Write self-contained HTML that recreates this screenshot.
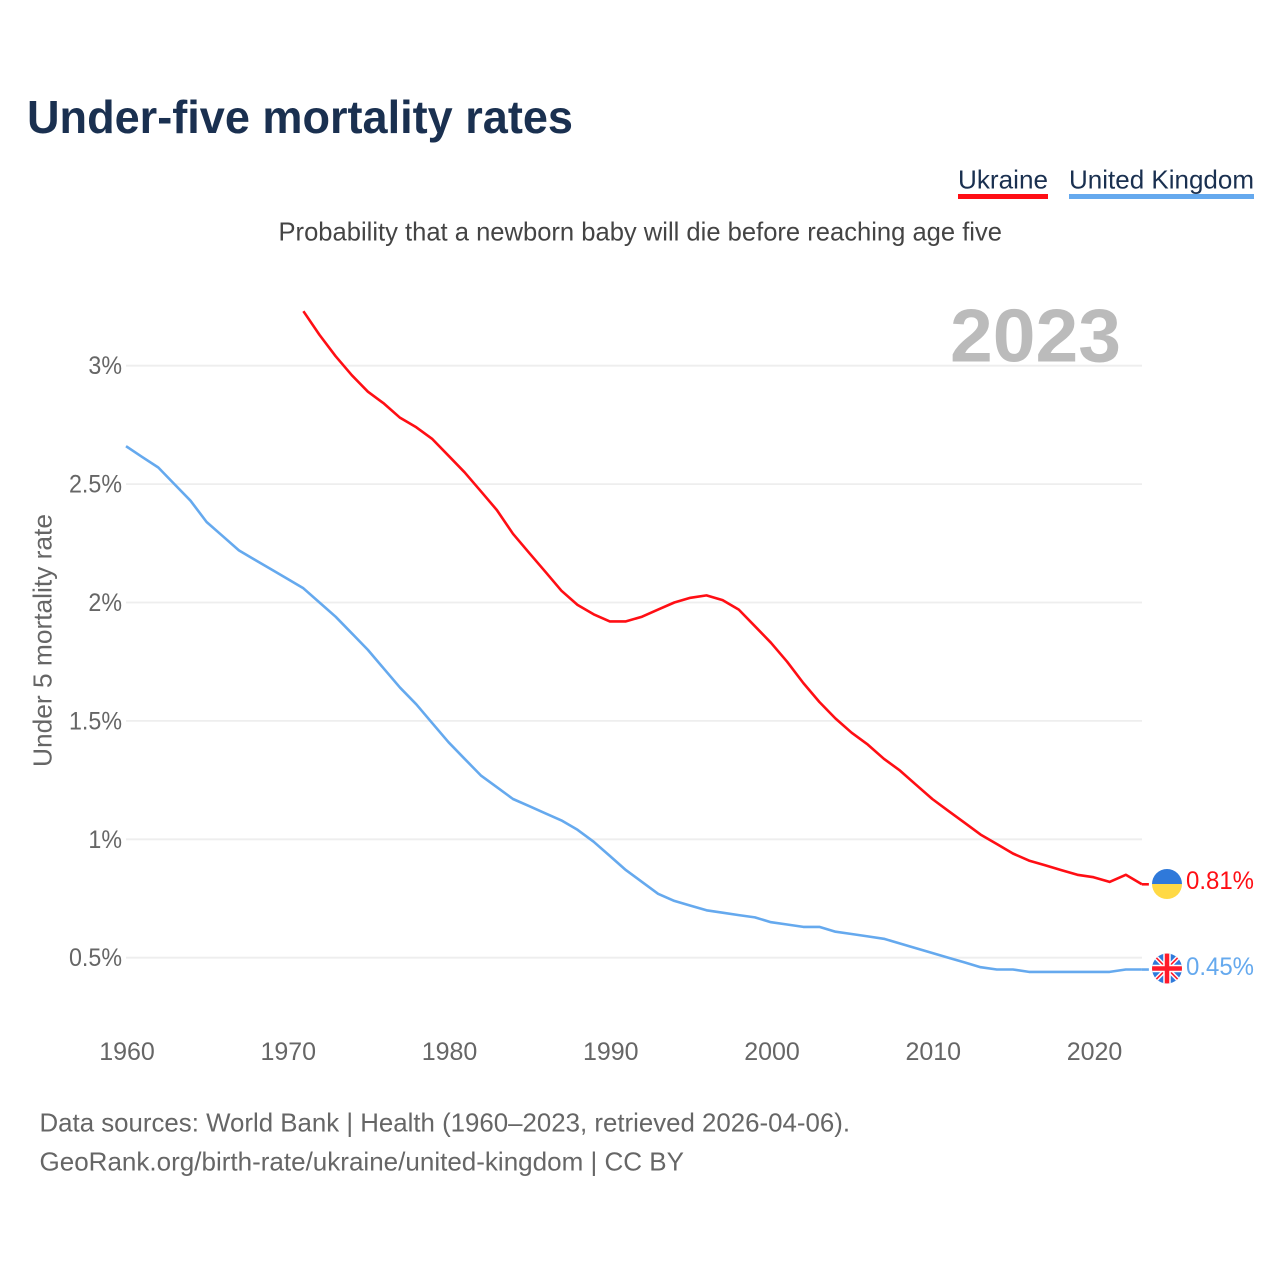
<!DOCTYPE html>
<html lang="en">
<head>
<meta charset="utf-8">
<title>Under-five mortality rates</title>
<style>
html,body{margin:0;padding:0;background:#fff;width:1280px;height:1280px;overflow:hidden}
svg{display:block}
text{font-family:"Liberation Sans",sans-serif}
</style>
</head>
<body>
<svg id="chart" xmlns="http://www.w3.org/2000/svg" width="1280" height="1280" viewBox="0 0 1280 1280">
  <defs>
    <clipPath id="clip-ua"><circle cx="1167" cy="884" r="15"/></clipPath>
    <clipPath id="clip-uk"><circle cx="1167" cy="968.5" r="15"/></clipPath>
  </defs>
  <text x="27" y="133" font-size="46" font-weight="700" fill="#1a3050" textLength="546" lengthAdjust="spacingAndGlyphs">Under-five mortality rates</text>

  <g>
    <text x="958" y="188.5" font-size="26" fill="#1a3050" textLength="90" lengthAdjust="spacingAndGlyphs">Ukraine</text>
    <rect x="958" y="194" width="90" height="5" fill="#ff0e14"/>
  </g>
  <g>
    <text x="1069" y="188.5" font-size="26" fill="#1a3050" textLength="185" lengthAdjust="spacingAndGlyphs">United Kingdom</text>
    <rect x="1069" y="194" width="185" height="5" fill="#65a9ee"/>
  </g>

  <text x="278.5" y="240.5" font-size="26" fill="#444" textLength="723.5" lengthAdjust="spacingAndGlyphs">Probability that a newborn baby will die before reaching age five</text>

  <g id="grid"></g>
  <g id="y-ticks"></g>
  <g id="x-ticks"></g>

  <text x="950" y="361.5" font-size="75" font-weight="700" fill="#bbbbbb" textLength="171" lengthAdjust="spacingAndGlyphs">2023</text>

  <text transform="translate(51.5,767) rotate(-90)" x="0" y="0" font-size="26" fill="#666" textLength="253" lengthAdjust="spacingAndGlyphs">Under 5 mortality rate</text>

  <polyline id="line-uk" fill="none" stroke="#65a9ee" stroke-width="2.6" stroke-linejoin="round"/>
  <polyline id="line-ua" fill="none" stroke="#ff0e14" stroke-width="2.6" stroke-linejoin="round"/>
  <line id="tail-uk" stroke="#65a9ee" stroke-width="2.6"/>
  <line id="tail-ua" stroke="#ff0e14" stroke-width="2.6"/>

  <g clip-path="url(#clip-ua)">
    <rect x="1152" y="869" width="30" height="15" fill="#2f79da"/>
    <rect x="1152" y="884" width="30" height="15" fill="#ffd945"/>
  </g>
  <g clip-path="url(#clip-uk)">
    <rect x="1152" y="953.5" width="30" height="30" fill="#2f79da"/>
    <path d="M1152 953.5L1182 983.5M1182 953.5L1152 983.5" stroke="#fff" stroke-width="4.5"/>
    <path d="M1152 953.5L1182 983.5M1182 953.5L1152 983.5" stroke="#ff1a2a" stroke-width="1.6"/>
    <path d="M1167 953.5V983.5M1152 968.5H1182" stroke="#fff" stroke-width="7.5"/>
    <path d="M1167 953.5V983.5M1152 968.5H1182" stroke="#ff1a2a" stroke-width="4.5"/>
  </g>

  <text x="1186" y="889" font-size="25" fill="#ff0e14" textLength="68" lengthAdjust="spacingAndGlyphs">0.81%</text>
  <text x="1186" y="975" font-size="25" fill="#65a9ee" textLength="68" lengthAdjust="spacingAndGlyphs">0.45%</text>

  <text x="39.5" y="1131.5" font-size="26" fill="#666" textLength="810.5" lengthAdjust="spacingAndGlyphs">Data sources: World Bank | Health (1960–2023, retrieved 2026-04-06).</text>
  <text x="39.5" y="1170.5" font-size="26" fill="#666" textLength="644.5" lengthAdjust="spacingAndGlyphs">GeoRank.org/birth-rate/ukraine/united-kingdom | CC BY</text>
</svg>
<script>
var years = [1960,1961,1962,1963,1964,1965,1966,1967,1968,1969,1970,1971,1972,1973,1974,1975,1976,1977,1978,1979,1980,1981,1982,1983,1984,1985,1986,1987,1988,1989,1990,1991,1992,1993,1994,1995,1996,1997,1998,1999,2000,2001,2002,2003,2004,2005,2006,2007,2008,2009,2010,2011,2012,2013,2014,2015,2016,2017,2018,2019,2020,2021,2022,2023];
var ukValues = [2.66,2.615,2.57,2.50,2.43,2.34,2.28,2.22,2.18,2.14,2.10,2.06,2.00,1.94,1.87,1.80,1.72,1.64,1.57,1.49,1.41,1.34,1.27,1.22,1.17,1.14,1.11,1.08,1.04,0.99,0.93,0.87,0.82,0.77,0.74,0.72,0.70,0.69,0.68,0.67,0.65,0.64,0.63,0.63,0.61,0.60,0.59,0.58,0.56,0.54,0.52,0.50,0.48,0.46,0.45,0.45,0.44,0.44,0.44,0.44,0.44,0.44,0.45,0.45];
var uaValues = [null,null,null,null,null,null,null,null,null,null,null,3.23,3.13,3.04,2.96,2.89,2.84,2.78,2.74,2.69,2.62,2.55,2.47,2.39,2.29,2.21,2.13,2.05,1.99,1.95,1.92,1.92,1.94,1.97,2.00,2.02,2.03,2.01,1.97,1.90,1.83,1.75,1.66,1.58,1.51,1.45,1.40,1.34,1.29,1.23,1.17,1.12,1.07,1.02,0.98,0.94,0.91,0.89,0.87,0.85,0.84,0.82,0.85,0.81];
var yTickValues = [0.5,1,1.5,2,2.5,3];
var yTickLabels = ["0.5%","1%","1.5%","2%","2.5%","3%"];
var xTickValues = [1960,1970,1980,1990,2000,2010,2020];

var NS = 'http://www.w3.org/2000/svg';
function xScale(year){ return 126 + (year - 1960) * 16.125; }
function yScale(v){ return 957.7 - (v - 0.5) * 236.8; }

var grid = document.getElementById('grid');
var yTicks = document.getElementById('y-ticks');
var xTicks = document.getElementById('x-ticks');

yTickValues.forEach(function(v, i){
  var l = document.createElementNS(NS, 'line');
  
  
  l.setAttribute('x1', 126);
  l.setAttribute('x2', 1142);
  l.setAttribute('y1', yScale(v));
  l.setAttribute('y2', yScale(v));
  l.setAttribute('stroke', '#eeeeee');
  l.setAttribute('stroke-width', 1.8);
  grid.appendChild(l);

  var t = document.createElementNS(NS, 'text');
  
  
  t.setAttribute('x', 122);
  t.setAttribute('y', yScale(v) + 8.5);
  t.setAttribute('text-anchor', 'end');
  t.setAttribute('font-size', 25);
  t.setAttribute('fill', '#666');
  t.textContent = yTickLabels[i];
  yTicks.appendChild(t);
  t.setAttribute('textLength', (t.getComputedTextLength() * 0.93).toFixed(1));
  t.setAttribute('lengthAdjust', 'spacingAndGlyphs');
});

xTickValues.forEach(function(yr){
  var t = document.createElementNS(NS, 'text');
  
  
  t.setAttribute('x', xScale(yr) + 1);
  t.setAttribute('y', 1060);
  t.setAttribute('text-anchor', 'middle');
  t.setAttribute('font-size', 25);
  t.setAttribute('fill', '#666');
  t.textContent = String(yr);
  xTicks.appendChild(t);
});

function drawSeries(id, tailId, values){
  var pts = [], last = null;
  values.forEach(function(v, i){
    if (v === null) return;
    pts.push(xScale(years[i]).toFixed(1) + ',' + yScale(v).toFixed(1));
    last = i;
  });
  document.getElementById(id).setAttribute('points', pts.join(' '));
  var tail = document.getElementById(tailId);
  tail.setAttribute('x1', xScale(years[last]));
  tail.setAttribute('x2', xScale(years[last]) + 7);
  tail.setAttribute('y1', yScale(values[last]));
  tail.setAttribute('y2', yScale(values[last]));
}
drawSeries('line-uk', 'tail-uk', ukValues);
drawSeries('line-ua', 'tail-ua', uaValues);
</script>
</body>
</html>
